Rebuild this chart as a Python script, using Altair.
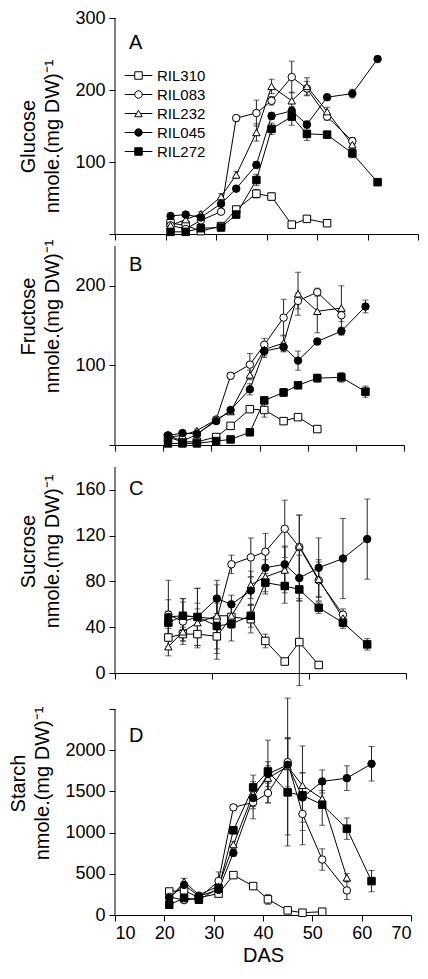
import altair as alt
import pandas as pd

FONT = "Liberation Sans"

SERIES = ["RIL310", "RIL083", "RIL232", "RIL045", "RIL272"]
DAYS = [21, 24, 27, 31, 34, 38, 41, 45, 48, 52, 57, 62]
X_TICKS = [10, 20, 30, 40, 50, 60, 70]
X_TICKS_C = [10, 30, 50, 70]

# Panel A: glucose
GLU_RIL310 = [15, 12, 4, 11, 34, 56, 52, 13, 21, 15]
GLU_RIL083 = [12, 7, 19, 31, 161, 168, 185, 218, 202, 163, 129]
GLU_RIL232 = [12, 20, 28, 52, 82, 141, 205, 185, 205, 170, 124]
GLU_RIL045 = [25, 27, 23, 42, 63, 96, 164, 171, 152, 190, 195, 243]
GLU_RIL272 = [3, 3, 8, 9, 27, 75, 146, 163, 139, 138, 112, 72]
GLU_SE_RIL310 = [3, 3, 2, 2, 4, 6, 5, 2, 2, 2]
GLU_SE_RIL083 = [3, 2, 3, 3, 4, 18, 6, 22, 10, 5, 5]
GLU_SE_RIL232 = [3, 3, 3, 4, 5, 12, 10, 12, 12, 6, 5]
GLU_SE_RIL045 = [2, 2, 2, 3, 3, 4, 5, 6, 5, 4, 6, 3]
GLU_SE_RIL272 = [1, 1, 2, 2, 3, 8, 8, 12, 9, 4, 6, 2]

# Panel B: fructose
FRU_RIL310 = [10, 4, 4, 10, 24, 45, 44, 30, 35, 20]
FRU_RIL083 = [12, 5, 13, 32, 87, 101, 126, 160, 181, 192, 163]
FRU_RIL232 = [10, 12, 18, 32, 42, 88, 120, 128, 190, 168, 172]
FRU_RIL045 = [12, 15, 14, 30, 44, 70, 118, 123, 106, 130, 143, 174]
FRU_RIL272 = [2, 2, 2, 5, 7, 16, 56, 66, 75, 84, 85, 67]
FRU_SE_RIL310 = [2, 1, 1, 2, 3, 3, 9, 3, 3, 2]
FRU_SE_RIL083 = [2, 2, 2, 3, 4, 14, 8, 23, 10, 5, 8]
FRU_SE_RIL232 = [2, 2, 2, 3, 3, 6, 8, 10, 27, 27, 28]
FRU_SE_RIL045 = [2, 2, 2, 3, 3, 7, 8, 6, 12, 4, 5, 8]
FRU_SE_RIL272 = [1, 1, 1, 1, 2, 3, 3, 5, 3, 5, 6, 7]

# Panel C: sucrose
SUC_RIL310 = [31, 34, 34, 32, 49, 47, 28, 10, 27, 7]
SUC_RIL083 = [51, 45, 49, 47, 95, 101, 106, 126, 110, 81, 51]
SUC_RIL232 = [23, 36, 44, 50, 50, 77, 84, 90, 111, 82, 48]
SUC_RIL045 = [49, 50, 49, 65, 60, 72, 92, 95, 83, 92, 100, 117]
SUC_RIL272 = [44, 50, 49, 41, 43, 50, 79, 76, 73, 57, 44, 25]
SUC_SE_RIL310 = [8, 6, 12, 20, 10, 12, 6, 2, 38, 2]
SUC_SE_RIL083 = [30, 20, 25, 30, 8, 17, 16, 25, 28, 18, 5]
SUC_SE_RIL232 = [8, 8, 12, 15, 10, 12, 15, 20, 27, 15, 5]
SUC_SE_RIL045 = [15, 15, 25, 16, 8, 12, 15, 16, 20, 26, 35, 35]
SUC_SE_RIL272 = [10, 12, 12, 20, 15, 10, 8, 15, 10, 5, 5, 5]

# Panel D: starch
STA_RIL310 = [285, 300, 210, 260, 484, 351, 190, 56, 28, 40]
STA_RIL083 = [220, 180, 205, 413, 1306, 1367, 1480, 1855, 1226, 673, 298]
STA_RIL232 = [190, 405, 245, 350, 855, 1468, 1661, 1802, 1573, 1411, 452]
STA_RIL045 = [205, 365, 230, 305, 754, 1419, 1710, 1823, 1427, 1621, 1661, 1835]
STA_RIL272 = [124, 205, 185, 325, 1028, 1548, 1742, 1488, 1452, 1339, 1048, 411]
STA_SE_RIL310 = [20, 20, 15, 20, 15, 15, 60, 15, 10, 10]
STA_SE_RIL083 = [20, 30, 20, 110, 30, 200, 120, 300, 200, 130, 110]
STA_SE_RIL232 = [30, 40, 30, 60, 40, 150, 150, 830, 150, 100, 50]
STA_SE_RIL045 = [30, 30, 20, 40, 40, 130, 150, 320, 300, 140, 150, 210]
STA_SE_RIL272 = [20, 20, 20, 60, 40, 150, 380, 650, 600, 250, 130, 130]

SHAPES = ["square", "circle", "triangle-up", "circle", "square"]
FILLS = ["white", "white", "white", "black", "black"]
LEGEND_SHAPES = [
    "M-3.7,0H-1M1,0H3.7M-1,-1H1V1H-1Z",
    "M-3.7,0H-1M1,0H3.7M-1,0A1,1,0,1,0,1,0A1,1,0,1,0,-1,0Z",
    "M-3.7,0H-0.5M0.5,0H3.7M0,-0.866L1,0.866L-1,0.866Z",
    "M-3.7,0H-1M1,0H3.7M-1,0A1,1,0,1,0,1,0A1,1,0,1,0,-1,0Z",
    "M-3.7,0H-1M1,0H3.7M-1,-1H1V1H-1Z",
]


def make_df(values, errors):
    rows = []
    for s, vals, errs in zip(SERIES, values, errors):
        for d, v, e in zip(DAYS, vals, errs):
            rows.append({"series": s, "day": d, "value": v, "lo": v - e, "hi": v + e})
    return pd.DataFrame(rows)


def panel(df, letter, title_lines, width, height, y_max_axis, y_max_scale,
          y_values, title_y, letter_y, x_values, bottom=False,
          hide_label=None, legend=False):
    x_axis_kw = dict(values=x_values, tickSize=6, grid=False)
    if bottom:
        x_axis_kw.update(title="DAS", labelFontSize=18, labelPadding=3,
                         titleFontSize=20, titlePadding=3)
    else:
        x_axis_kw.update(title=None, labels=False)
    y_axis_kw = dict(values=y_values, tickSize=6, labelPadding=4, format="d",
                     labelFontSize=18, title=title_lines, titleFontSize=20,
                     titleLineHeight=24, titlePadding=12, titleY=title_y,
                     titleAlign="center", grid=False, domain=False)
    if hide_label is not None:
        y_axis_kw["labelExpr"] = f"datum.value == {hide_label} ? '' : datum.label"

    x = alt.X("day:Q", scale=alt.Scale(domain=[10, 70], nice=False, zero=False),
              axis=alt.Axis(**x_axis_kw))
    y = alt.Y("value:Q", scale=alt.Scale(domain=[0, y_max_scale], nice=False),
              axis=alt.Axis(**y_axis_kw))

    base = alt.Chart(df)
    axis_line = alt.Chart(pd.DataFrame({"a": [0]})).mark_rule(
        color="black", strokeWidth=1).encode(
        x=alt.X(datum=10, type="quantitative"),
        y=alt.Y(datum=0, type="quantitative"),
        y2=alt.Y2(datum=y_max_axis))
    lines = base.mark_line(color="black", strokeWidth=1).encode(
        x=x, y=y, detail="series:N", order="day:Q")
    bars = base.mark_rule(color="#222", strokeWidth=1).encode(
        x="day:Q", y="lo:Q", y2="hi:Q")
    caps_lo = base.mark_tick(orient="horizontal", size=6, thickness=1,
                             color="#222").encode(x="day:Q", y="lo:Q")
    caps_hi = base.mark_tick(orient="horizontal", size=6, thickness=1,
                             color="#222").encode(x="day:Q", y="hi:Q")
    points = base.mark_point(filled=True, stroke="black", strokeWidth=1,
                             size=56, opacity=1).encode(
        x="day:Q", y="value:Q",
        shape=alt.Shape("series:N", scale=alt.Scale(domain=SERIES, range=SHAPES),
                        legend=None),
        fill=alt.Fill("series:N", scale=alt.Scale(domain=SERIES, range=FILLS),
                      legend=None))
    label = alt.Chart(pd.DataFrame({"t": [letter]})).mark_text(
        font=FONT, fontSize=20, align="left", baseline="alphabetic",
        color="black").encode(text="t:N", x=alt.value(14), y=alt.value(letter_y))

    layers = [axis_line, lines, bars, caps_lo, caps_hi, points, label]
    if legend:
        leg = alt.Legend(orient="none", legendX=16, legendY=50, title=None,
                         labelFont=FONT, labelFontSize=15, labelColor="black",
                         symbolSize=56, symbolStrokeWidth=1, symbolOpacity=1,
                         labelOffset=11, rowPadding=3, padding=0)
        legend_layer = base.transform_filter("datum.day < 0").mark_point(
            filled=True, stroke="black", strokeWidth=1, size=56, opacity=1).encode(
            x="day:Q", y="value:Q",
            shape=alt.Shape("series:N",
                            scale=alt.Scale(domain=SERIES, range=LEGEND_SHAPES),
                            legend=leg),
            fill=alt.Fill("series:N", scale=alt.Scale(domain=SERIES, range=FILLS),
                          legend=leg))
        layers.append(legend_layer)
    ch = alt.layer(*layers).properties(width=width, height=height)
    if legend:
        ch = ch.resolve_scale(shape="independent", fill="independent")
    return ch


df_a = make_df([GLU_RIL310, GLU_RIL083, GLU_RIL232, GLU_RIL045, GLU_RIL272],
               [GLU_SE_RIL310, GLU_SE_RIL083, GLU_SE_RIL232, GLU_SE_RIL045, GLU_SE_RIL272])
df_b = make_df([FRU_RIL310, FRU_RIL083, FRU_RIL232, FRU_RIL045, FRU_RIL272],
               [FRU_SE_RIL310, FRU_SE_RIL083, FRU_SE_RIL232, FRU_SE_RIL045, FRU_SE_RIL272])
df_c = make_df([SUC_RIL310, SUC_RIL083, SUC_RIL232, SUC_RIL045, SUC_RIL272],
               [SUC_SE_RIL310, SUC_SE_RIL083, SUC_SE_RIL232, SUC_SE_RIL045, SUC_SE_RIL272])
df_d = make_df([STA_RIL310, STA_RIL083, STA_RIL232, STA_RIL045, STA_RIL272],
               [STA_SE_RIL310, STA_SE_RIL083, STA_SE_RIL232, STA_SE_RIL045, STA_SE_RIL272])

UNIT = "nmole.(mg DW)\u207b\u00b9"

pa = panel(df_a, "A", ["Glucose", UNIT], 303, 216, 300, 300,
           [0, 100, 200, 300], 118, 31, X_TICKS, hide_label=0, legend=True)
pb = panel(df_b, "B", ["Fructose", UNIT], 289, 199, 250, 250,
           [0, 100, 200], 70, 25, X_TICKS, hide_label=0)
pc = panel(df_c, "C", ["Sucrose", UNIT], 291, 216, 180, 180 * 216 / 206,
           [0, 40, 80, 120, 160], 94, 38, X_TICKS_C)
pd_ = panel(df_d, "D", ["Starch", UNIT], 296, 230, 2500, 2500 * 230 / 206,
            [0, 500, 1000, 1500, 2000, 2500], 98, 57, X_TICKS, bottom=True,
            hide_label=2500)

chart = alt.vconcat(pa, pb, pc, pd_, spacing=12, bounds="flush").properties(
    padding=0
).configure_view(stroke="transparent").configure_axis(
    labelFont=FONT, titleFont=FONT, labelColor="black", titleColor="black",
    domainColor="black", tickColor="black", titleFontWeight="normal",
    domainWidth=1, tickWidth=1
)

chart.save("out.html", embed_options={"renderer": "svg", "actions": False})
